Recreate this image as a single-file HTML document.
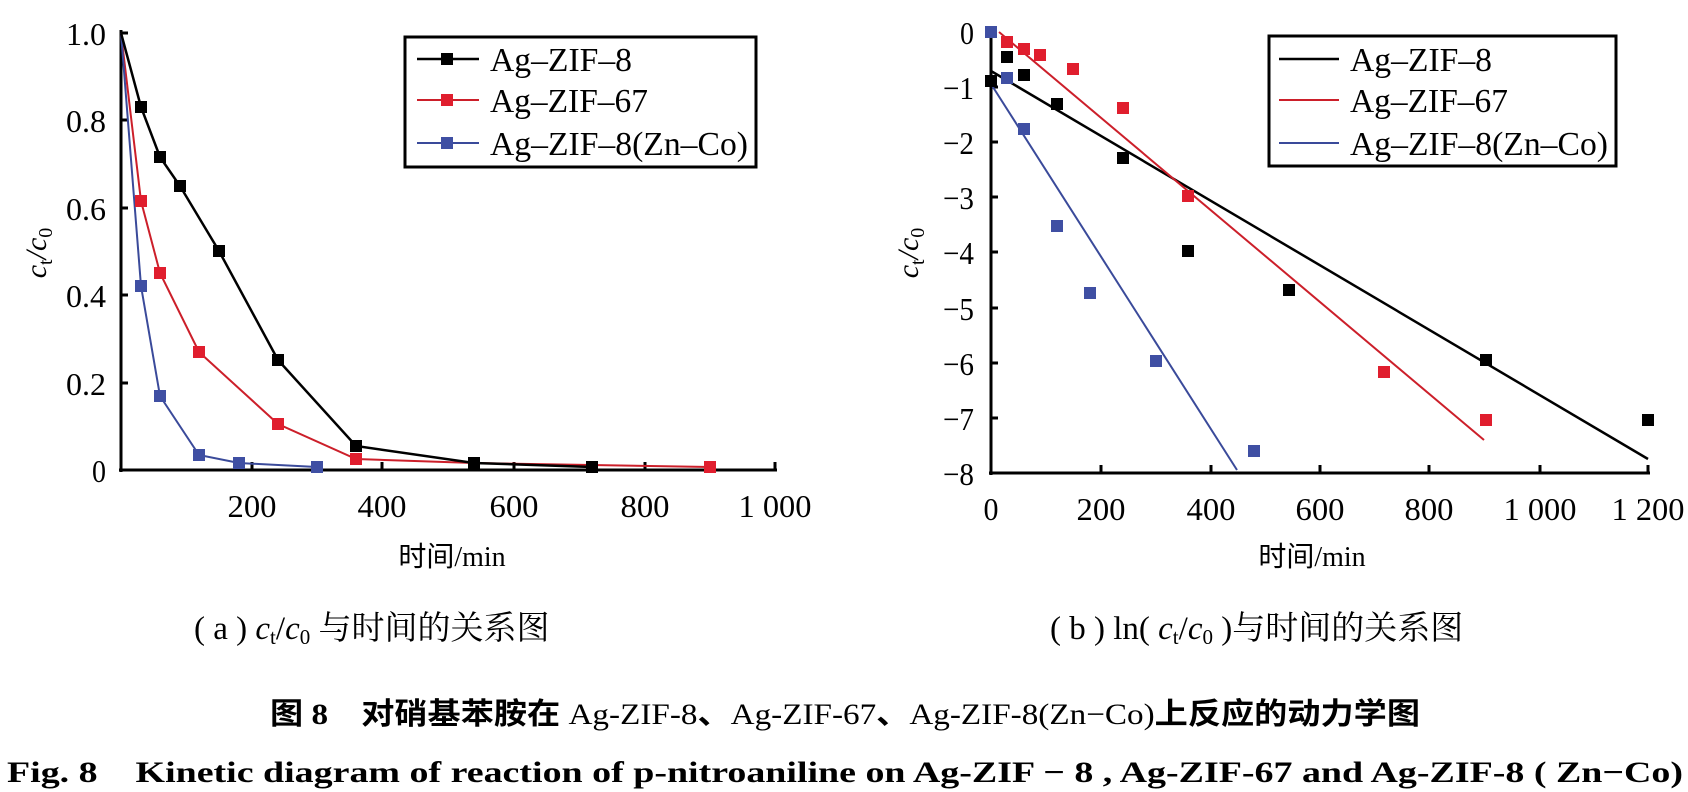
<!DOCTYPE html>
<html><head><meta charset="utf-8"><style>html,body{margin:0;padding:0;background:#fff;}svg{display:block}</style></head>
<body>
<svg width="1688" height="792" viewBox="0 0 1688 792" xmlns="http://www.w3.org/2000/svg" font-family="'Liberation Serif','Noto Serif CJK SC',serif">
<g stroke="#000" stroke-width="3" fill="none">
<line x1="121" y1="30" x2="121" y2="472"/>
<line x1="119" y1="470" x2="777" y2="470"/>
<line x1="121" y1="120" x2="128" y2="120"/><line x1="121" y1="208" x2="128" y2="208"/><line x1="121" y1="295" x2="128" y2="295"/><line x1="121" y1="383" x2="128" y2="383"/><line x1="121" y1="33" x2="128" y2="33"/>
<line x1="252" y1="470" x2="252" y2="462"/><line x1="382" y1="470" x2="382" y2="462"/><line x1="514" y1="470" x2="514" y2="462"/><line x1="645" y1="470" x2="645" y2="462"/><line x1="775" y1="470" x2="775" y2="462"/>
</g>
<g font-size="32" text-anchor="end">
<text x="106" y="45" textLength="40" lengthAdjust="spacingAndGlyphs">1.0</text><text x="106" y="132" textLength="40" lengthAdjust="spacingAndGlyphs">0.8</text><text x="106" y="220" textLength="40" lengthAdjust="spacingAndGlyphs">0.6</text><text x="106" y="307" textLength="40" lengthAdjust="spacingAndGlyphs">0.4</text><text x="106" y="395" textLength="40" lengthAdjust="spacingAndGlyphs">0.2</text><text x="106" y="482" textLength="14" lengthAdjust="spacingAndGlyphs">0</text>
</g>
<g font-size="32" text-anchor="middle">
<text x="252" y="517" textLength="49" lengthAdjust="spacingAndGlyphs">200</text><text x="382" y="517" textLength="49" lengthAdjust="spacingAndGlyphs">400</text><text x="514" y="517" textLength="49" lengthAdjust="spacingAndGlyphs">600</text><text x="645" y="517" textLength="49" lengthAdjust="spacingAndGlyphs">800</text><text x="775" y="517" textLength="73" lengthAdjust="spacingAndGlyphs">1 000</text>
<text x="452" y="566" font-size="28" font-family="'Liberation Serif','Noto Sans CJK SC',serif">时间/min</text>
</g>
<text transform="translate(46,253) rotate(-90)" font-size="30" text-anchor="middle" font-style="italic">c<tspan font-size="20" font-style="normal" dy="6">t</tspan><tspan dy="-6">/c</tspan><tspan font-size="20" font-style="normal" dy="6">0</tspan></text>
<g stroke-width="2" fill="none">
<polyline stroke="#cc1f2a" points="121,33 141,201 160,273 199,352 278,424 356,459 474,463 710,467"/>
<polyline stroke="#3a4a9a" points="121,33 141,286 160,396 199,455 239,463 317,467"/>
</g>
<polyline stroke="#000" stroke-width="2.5" fill="none" points="121,33 141,107 160,157 180,186 219,251 278,360 356,446 474,463 592,467"/>
<g fill="#000"><rect x="135" y="101" width="12" height="12"/><rect x="154" y="151" width="12" height="12"/><rect x="174" y="180" width="12" height="12"/><rect x="213" y="245" width="12" height="12"/><rect x="272" y="354" width="12" height="12"/><rect x="350" y="440" width="12" height="12"/><rect x="468" y="457" width="12" height="12"/><rect x="586" y="461" width="12" height="12"/></g>
<g fill="#e01e2e"><rect x="135" y="195" width="12" height="12"/><rect x="154" y="267" width="12" height="12"/><rect x="193" y="346" width="12" height="12"/><rect x="272" y="418" width="12" height="12"/><rect x="350" y="453" width="12" height="12"/><rect x="704" y="461" width="12" height="12"/></g>
<g fill="#3f4fa3"><rect x="135" y="280" width="12" height="12"/><rect x="154" y="390" width="12" height="12"/><rect x="193" y="449" width="12" height="12"/><rect x="233" y="457" width="12" height="12"/><rect x="311" y="461" width="12" height="12"/></g>
<rect x="405" y="37" width="351" height="130" fill="#fff" stroke="#000" stroke-width="3"/>
<line x1="417" y1="59" x2="479" y2="59" stroke="#000" stroke-width="2.5"/><rect x="441" y="53" width="12" height="12" fill="#000"/>
<line x1="417" y1="100" x2="479" y2="100" stroke="#cc1f2a" stroke-width="2"/><rect x="441" y="94" width="12" height="12" fill="#e01e2e"/>
<line x1="417" y1="143" x2="479" y2="143" stroke="#3a4a9a" stroke-width="2"/><rect x="441" y="137" width="12" height="12" fill="#3f4fa3"/>
<g font-size="34"><text x="490" y="71" textLength="142" lengthAdjust="spacingAndGlyphs">Ag–ZIF–8</text><text x="490" y="112" textLength="158" lengthAdjust="spacingAndGlyphs">Ag–ZIF–67</text><text x="490" y="155" textLength="258" lengthAdjust="spacingAndGlyphs">Ag–ZIF–8(Zn–Co)</text></g>

<g stroke="#000" stroke-width="3" fill="none">
<line x1="991" y1="30" x2="991" y2="475"/>
<line x1="989" y1="473" x2="1650" y2="473"/>
<line x1="991" y1="87" x2="998" y2="87"/><line x1="991" y1="142" x2="998" y2="142"/><line x1="991" y1="197" x2="998" y2="197"/><line x1="991" y1="252" x2="998" y2="252"/><line x1="991" y1="308" x2="998" y2="308"/><line x1="991" y1="363" x2="998" y2="363"/><line x1="991" y1="418" x2="998" y2="418"/>
<line x1="1101" y1="473" x2="1101" y2="465"/><line x1="1211" y1="473" x2="1211" y2="465"/><line x1="1320" y1="473" x2="1320" y2="465"/><line x1="1429" y1="473" x2="1429" y2="465"/><line x1="1540" y1="473" x2="1540" y2="465"/><line x1="1648" y1="473" x2="1648" y2="465"/>
</g>
<g font-size="32" text-anchor="end">
<text x="974" y="44" textLength="14" lengthAdjust="spacingAndGlyphs">0</text><text x="974" y="99" textLength="31" lengthAdjust="spacingAndGlyphs">−1</text><text x="974" y="154" textLength="31" lengthAdjust="spacingAndGlyphs">−2</text><text x="974" y="209" textLength="31" lengthAdjust="spacingAndGlyphs">−3</text><text x="974" y="264" textLength="31" lengthAdjust="spacingAndGlyphs">−4</text><text x="974" y="320" textLength="31" lengthAdjust="spacingAndGlyphs">−5</text><text x="974" y="375" textLength="31" lengthAdjust="spacingAndGlyphs">−6</text><text x="974" y="430" textLength="31" lengthAdjust="spacingAndGlyphs">−7</text><text x="974" y="485" textLength="31" lengthAdjust="spacingAndGlyphs">−8</text>
</g>
<g font-size="32" text-anchor="middle">
<text x="991" y="520" textLength="15" lengthAdjust="spacingAndGlyphs">0</text><text x="1101" y="520" textLength="49" lengthAdjust="spacingAndGlyphs">200</text><text x="1211" y="520" textLength="49" lengthAdjust="spacingAndGlyphs">400</text><text x="1320" y="520" textLength="49" lengthAdjust="spacingAndGlyphs">600</text><text x="1429" y="520" textLength="49" lengthAdjust="spacingAndGlyphs">800</text><text x="1540" y="520" textLength="73" lengthAdjust="spacingAndGlyphs">1 000</text><text x="1648" y="520" textLength="73" lengthAdjust="spacingAndGlyphs">1 200</text>
<text x="1312" y="566" font-size="28" font-family="'Liberation Serif','Noto Sans CJK SC',serif">时间/min</text>
</g>
<text transform="translate(918,253) rotate(-90)" font-size="30" text-anchor="middle" font-style="italic">c<tspan font-size="20" font-style="normal" dy="6">t</tspan><tspan dy="-6">/c</tspan><tspan font-size="20" font-style="normal" dy="6">0</tspan></text>
<line x1="991" y1="71" x2="1648" y2="459" stroke="#000" stroke-width="2.5"/>
<line x1="999" y1="32" x2="1484" y2="440" stroke="#cc1f2a" stroke-width="2"/>
<line x1="991" y1="84" x2="1237" y2="470" stroke="#3a4a9a" stroke-width="2"/>
<g fill="#000"><rect x="985" y="75" width="12" height="12"/><rect x="1001" y="51" width="12" height="12"/><rect x="1018" y="69" width="12" height="12"/><rect x="1051" y="98" width="12" height="12"/><rect x="1117" y="152" width="12" height="12"/><rect x="1182" y="245" width="12" height="12"/><rect x="1283" y="284" width="12" height="12"/><rect x="1480" y="354" width="12" height="12"/><rect x="1642" y="414" width="12" height="12"/></g>
<g fill="#e01e2e"><rect x="1001" y="36" width="12" height="12"/><rect x="1018" y="43" width="12" height="12"/><rect x="1034" y="49" width="12" height="12"/><rect x="1067" y="63" width="12" height="12"/><rect x="1117" y="102" width="12" height="12"/><rect x="1182" y="190" width="12" height="12"/><rect x="1378" y="366" width="12" height="12"/><rect x="1480" y="414" width="12" height="12"/></g>
<g fill="#3f4fa3"><rect x="985" y="26" width="12" height="12"/><rect x="1001" y="72" width="12" height="12"/><rect x="1018" y="123" width="12" height="12"/><rect x="1051" y="220" width="12" height="12"/><rect x="1084" y="287" width="12" height="12"/><rect x="1150" y="355" width="12" height="12"/><rect x="1248" y="445" width="12" height="12"/></g>
<rect x="1269" y="36" width="347" height="130" fill="#fff" stroke="#000" stroke-width="3"/>
<line x1="1279" y1="59" x2="1339" y2="59" stroke="#000" stroke-width="2.5"/>
<line x1="1279" y1="100" x2="1339" y2="100" stroke="#cc1f2a" stroke-width="2"/>
<line x1="1279" y1="143" x2="1339" y2="143" stroke="#3a4a9a" stroke-width="2"/>
<g font-size="34"><text x="1350" y="71" textLength="142" lengthAdjust="spacingAndGlyphs">Ag–ZIF–8</text><text x="1350" y="112" textLength="158" lengthAdjust="spacingAndGlyphs">Ag–ZIF–67</text><text x="1350" y="155" textLength="258" lengthAdjust="spacingAndGlyphs">Ag–ZIF–8(Zn–Co)</text></g>

<g font-family="'Liberation Serif','Noto Serif CJK SC',serif" font-size="33">
<text x="194" y="639">( a ) <tspan font-style="italic">c</tspan><tspan font-size="21" dy="5">t</tspan><tspan dy="-5">/</tspan><tspan font-style="italic">c</tspan><tspan font-size="21" dy="5">0</tspan><tspan dy="-5"> 与时间的关系图</tspan></text>
<text x="1050" y="639">( b ) ln( <tspan font-style="italic">c</tspan><tspan font-size="21" dy="5">t</tspan><tspan dy="-5">/</tspan><tspan font-style="italic">c</tspan><tspan font-size="21" dy="5">0</tspan><tspan dy="-5"> )与时间的关系图</tspan></text>
</g>
<g font-family="'Liberation Serif','Noto Serif CJK SC',serif" font-size="30" text-anchor="middle">
<text x="845" y="724" font-family="'Liberation Serif','Noto Sans CJK SC',serif" textLength="1150" lengthAdjust="spacingAndGlyphs"><tspan font-weight="bold">图 8　对硝基苯胺在 </tspan>Ag-ZIF-8<tspan font-weight="bold">、</tspan>Ag-ZIF-67<tspan font-weight="bold">、</tspan>Ag-ZIF-8(Zn−Co)<tspan font-weight="bold">上反应的动力学图</tspan></text>
<text x="845" y="782" font-weight="bold" font-size="30" textLength="1676" lengthAdjust="spacingAndGlyphs">Fig. 8　Kinetic diagram of reaction of p-nitroaniline on Ag-ZIF − 8 , Ag-ZIF-67 and Ag-ZIF-8 ( Zn−Co)</text>
</g>
</svg>
</body></html>
